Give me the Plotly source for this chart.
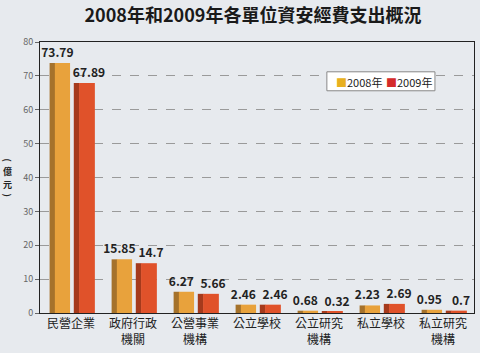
import plotly.graph_objects as go

categories = ["民營企業", "政府行政<br>機關", "公營事業<br>機構", "公立學校", "公立研究<br>機構", "私立學校", "私立研究<br>機構"]
v2008 = [73.79, 15.85, 6.27, 2.46, 0.68, 2.23, 0.95]
v2009 = [67.89, 14.7, 5.66, 2.46, 0.32, 2.69, 0.7]
labels2008 = ["73.79", "15.85", "6.27", "2.46", "0.68", "2.23", "0.95"]
labels2009 = ["67.89", "14.7", "5.66", "2.46", "0.32", "2.69", "0.7"]
series_names = ["2008年", "2009年"]
y_title_chars = ["(", "億", "元", ")"]

FONT = "Noto Sans CJK TC"
bg = "#e7eaee"

fig = go.Figure()
# side faces (3D look)
fig.add_trace(go.Bar(x=categories, y=v2008, offset=-0.345, width=0.09,
                     marker=dict(color="#a5722b", line=dict(width=0)),
                     showlegend=False, hoverinfo="skip"))
fig.add_trace(go.Bar(x=categories, y=v2009, offset=0.045, width=0.09,
                     marker=dict(color="#a53a1c", line=dict(width=0)),
                     showlegend=False, hoverinfo="skip"))
# front faces
fig.add_trace(go.Bar(x=categories, y=v2008, offset=-0.26, width=0.245, name=series_names[0],
                     marker=dict(color="#e8a23c", line=dict(width=0)), showlegend=False))
fig.add_trace(go.Bar(x=categories, y=v2009, offset=0.13, width=0.255, name=series_names[1],
                     marker=dict(color="#e0522a", line=dict(width=0)), showlegend=False))
# value labels (carried by transparent bars so they sit like the reference)
fig.add_trace(go.Bar(x=categories, y=v2008, offset=-0.42, width=0.4,
                     marker=dict(color="rgba(0,0,0,0)", line=dict(width=0)),
                     text=labels2008, textposition="outside", cliponaxis=False, constraintext="none",
                     showlegend=False, hoverinfo="skip",
                     textfont=dict(family=FONT, size=12, color="#222222", weight="bold")))
fig.add_trace(go.Bar(x=categories, y=v2009, offset=0.09, width=0.4,
                     marker=dict(color="rgba(0,0,0,0)", line=dict(width=0)),
                     text=labels2009, textposition="outside", cliponaxis=False, constraintext="none",
                     showlegend=False, hoverinfo="skip",
                     textfont=dict(family=FONT, size=12, color="#222222", weight="bold")))

annotations = []
# vertical y-axis title
shifts = [17, 6, -7, -18]
angles = [90, 0, 0, 90]
for ch, s, a in zip(y_title_chars, shifts, angles):
    annotations.append(dict(text=ch, xref="paper", yref="paper", x=-0.074, y=0.5, yshift=s,
                            textangle=a, xanchor="center", yanchor="middle", showarrow=False,
                            font=dict(family=FONT, size=9, color="#222222", weight="bold")))
# legend as text
leg_colors = ["#e8b020", "#d42a2a"]
leg_x = [0.677, 0.793]
for name, c, lx in zip(series_names, leg_colors, leg_x):
    annotations.append(dict(text=f"<span style='color:{c}'>■</span>{name}", xref="paper", yref="paper",
                            x=lx, y=0.853, xanchor="left", yanchor="middle", showarrow=False,
                            font=dict(family=FONT, size=11, color="#222222")))

fig.update_layout(
    width=480, height=353,
    margin=dict(l=40, r=6, t=42, b=40),
    paper_bgcolor=bg, plot_bgcolor=bg,
    barmode="overlay",
    showlegend=False,
    font=dict(family=FONT, color="#222222"),
    title=dict(text="<b>2008年和2009年各單位資安經費支出概況</b>", x=0.527, xanchor="center",
               y=0.955, yanchor="middle", font=dict(family=FONT, size=18, color="#1a1a1a")),
    xaxis=dict(range=[-0.5, 6.5], showline=True, linecolor="#222222", linewidth=1, mirror=True,
               ticks="", tickfont=dict(family=FONT, size=12, color="#222222"), fixedrange=True),
    yaxis=dict(range=[0, 80], dtick=10, showline=True, linecolor="#222222", linewidth=1, mirror=True,
               showgrid=True, gridcolor="#9a9a9a", griddash="dash", gridwidth=1,
               ticks="outside", ticklen=4, tickcolor="#666666",
               tickfont=dict(family=FONT, size=9, color="#666666"), zeroline=False),
    shapes=[dict(type="rect", xref="paper", yref="paper", x0=0.661, x1=0.91, y0=0.82, y1=0.89,
                 fillcolor="#ffffff", line=dict(color="#888888", width=1), layer="above")],
    annotations=annotations,
)

fig.write_html("out.html")
